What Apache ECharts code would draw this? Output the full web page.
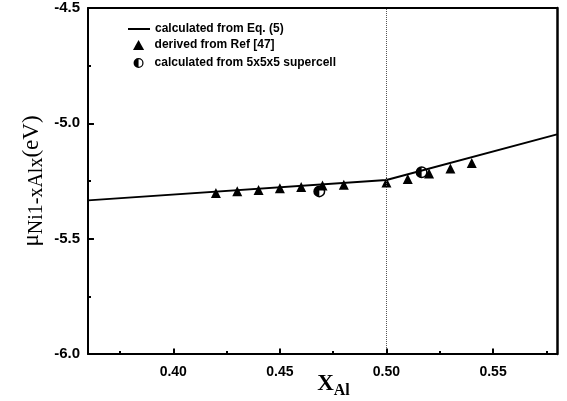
<!DOCTYPE html>
<html>
<head>
<meta charset="utf-8">
<style type="text/css">
html,body{margin:0;padding:0;background:#fff}
#chart{width:567px;height:401px}
</style>
<script src="https://cdn.jsdelivr.net/npm/echarts@6/dist/echarts.min.js"></script>
</head>
<body>
<div id="chart"></div>
<script type="text/javascript">
// Eq. (5) curve
var lineX = [0.36, 0.50, 0.58];
var lineY = [-5.334, -5.246, -5.048];
// derived from Ref [47]
var refX = [0.42, 0.43, 0.44, 0.45, 0.46, 0.47, 0.48, 0.50, 0.51, 0.52, 0.53, 0.54];
var refY = [-5.302, -5.294, -5.289, -5.281, -5.276, -5.270, -5.266, -5.256, -5.241, -5.218, -5.196, -5.172];
// 5x5x5 supercell
var cellX = [0.4685, 0.5165];
var cellY = [-5.295, -5.212];

var xMajor = [0.40, 0.45, 0.50, 0.55];
var xMinor = [0.375, 0.425, 0.475, 0.525, 0.575];
var yMajor = [-5.5, -5.0];
var yMinor = [-5.75, -5.25, -4.75];

var X_MIN = 0.36, X_MAX = 0.58, Y_MIN = -6, Y_MAX = -4.5;

function pairs(xs, ys) {
    return xs.map(function (x, i) { return [x, ys[i]]; });
}

var halfCircle = 'path://M10,0 A10,10 0 1,1 10,20 A10,10 0 1,1 10,0 Z M10,2.5 L10,17.5 A7.5,7.5 0 0,0 10,2.5 Z';
var triangle = 'path://M5,0 L10,9 L0,9 Z';
var legendText = {fontFamily: 'Liberation Sans', fontWeight: 'bold', fontSize: 12, color: '#000'};

// axis that only draws ticks
function tickAxis(pos, min, max, vals, len) {
    return {
        type: 'value', min: min, max: max, position: pos,
        axisLine: {show: false},
        axisTick: {show: true, inside: true, length: len, lineStyle: {color: '#000', width: 2}, customValues: vals},
        axisLabel: {show: false},
        splitLine: {show: false}
    };
}

// major ticks as short segments in data units (about 6px)
var tickSegs = xMajor.map(function (v) {
    return [{coord: [v, Y_MIN]}, {coord: [v, Y_MIN + 0.024]}];
}).concat(yMajor.map(function (v) {
    return [{coord: [X_MIN, v]}, {coord: [X_MIN + 0.0028, v]}];
}));

var chart = echarts.init(document.getElementById('chart'));
var option = {
    animation: false,
    grid: {left: 88, right: 10, top: 8, bottom: 47, containLabel: false, outerBoundsMode: 'none'},
    legend: [{
        left: 123,
        top: 18,
        itemWidth: 22,
        itemHeight: 2,
        textStyle: legendText,
        data: [{name: 'calculated from Eq. (5)', icon: 'rect', itemStyle: {color: '#000'}}]
    }, {
        orient: 'vertical',
        left: 128,
        top: 34,
        itemGap: 6,
        itemWidth: 22,
        itemHeight: 10,
        symbolKeepAspect: true,
        textStyle: legendText,
        data: [
            {name: 'derived from Ref [47]', icon: triangle, itemStyle: {color: '#000', opacity: 1}},
            {name: 'calculated from 5x5x5 supercell', icon: halfCircle, itemStyle: {color: '#000', opacity: 1}}
        ]
    }],
    xAxis: [{
        type: 'value',
        min: X_MIN, max: X_MAX,
        name: '{x|X}{s|Al}',
        nameLocation: 'middle',
        nameGap: 15,
        nameMoveOverlap: false,
        nameTextStyle: {
            padding: [0, 0, 0, 22],
            rich: {
                x: {fontFamily: 'Liberation Serif', fontWeight: 'bold', fontSize: 23, color: '#000'},
                s: {fontFamily: 'Liberation Serif', fontWeight: 'bold', fontSize: 16, color: '#000', padding: [14, 0, 0, 0]}
            }
        },
        axisLine: {show: true, lineStyle: {color: '#000', width: 2}},
        axisTick: {show: false},
        axisLabel: {
            customValues: xMajor, margin: 11,
            fontFamily: 'Liberation Sans', fontWeight: 'bold', fontSize: 14, color: '#000',
            formatter: function (v) { return v.toFixed(2); }
        },
        splitLine: {show: false}
    },
    tickAxis('bottom', X_MIN, X_MAX, xMinor, 3),
    {
        type: 'value',
        min: X_MIN, max: X_MAX,
        position: 'top',
        axisLine: {show: true, lineStyle: {color: '#000', width: 2}},
        axisTick: {show: false},
        axisLabel: {show: false},
        splitLine: {show: false}
    }],
    yAxis: [{
        type: 'value',
        min: Y_MIN, max: Y_MAX, interval: 0.5,
        name: '{m|μ}{s|Ni1-xAlx}{m|(eV)}',
        nameLocation: 'middle',
        nameGap: 41,
        nameMoveOverlap: false,
        nameTextStyle: {
            rich: {
                m: {fontFamily: 'Liberation Serif', fontSize: 23, color: '#000'},
                s: {fontFamily: 'Liberation Serif', fontSize: 20, color: '#000', padding: [11, 0, 0, 0]}
            }
        },
        axisLine: {show: true, lineStyle: {color: '#000', width: 2}},
        axisTick: {show: false},
        axisLabel: {
            margin: 8,
            fontFamily: 'Liberation Sans', fontWeight: 'bold', fontSize: 15, color: '#000',
            formatter: function (v) { return v.toFixed(1); }
        },
        splitLine: {show: false}
    },
    tickAxis('left', Y_MIN, Y_MAX, yMinor, 3),
    {
        type: 'value',
        min: Y_MIN, max: Y_MAX,
        position: 'right',
        axisLine: {show: true, lineStyle: {color: '#000', width: 2.5}},
        axisTick: {show: false},
        axisLabel: {show: false},
        splitLine: {show: false}
    }],
    series: [{
        name: 'calculated from Eq. (5)',
        type: 'line',
        data: pairs(lineX, lineY),
        symbol: 'none',
        lineStyle: {color: '#000', width: 2},
        itemStyle: {color: '#000'},
        z: 3,
        markLine: {
            silent: true,
            symbol: 'none',
            label: {show: false},
            lineStyle: {color: '#555', type: 'dotted', width: 1},
            data: [{xAxis: 0.50}]
        }
    }, {
        name: 'derived from Ref [47]',
        type: 'scatter',
        data: pairs(refX, refY),
        symbol: 'triangle',
        symbolSize: 10,
        itemStyle: {color: '#000', opacity: 1},
        z: 4,
        markLine: {
            silent: true,
            symbol: 'none',
            label: {show: false},
            lineStyle: {color: '#000', type: 'solid', width: 2},
            data: tickSegs
        }
    }, {
        name: 'calculated from 5x5x5 supercell',
        type: 'scatter',
        data: pairs(cellX, cellY),
        symbol: halfCircle,
        symbolSize: 12,
        itemStyle: {color: '#000', opacity: 1},
        z: 5
    }]
};
chart.setOption(option, true);
</script>
</body>
</html>
